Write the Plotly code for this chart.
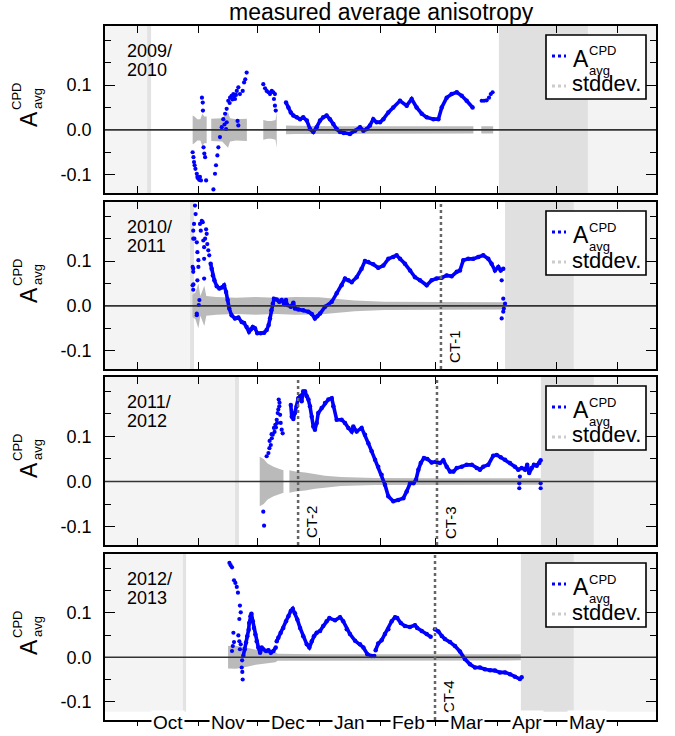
import plotly.graph_objects as go

# ======================= data =======================
title_text = "measured average anisotropy"
month_names = ["Oct", "Nov", "Dec", "Jan", "Feb", "Mar", "Apr", "May"]
month_start = [0, 31, 61, 92, 123, 151, 182, 212, 243]      # days after 1 Oct
season_line1 = ["2009/", "2010/", "2011/", "2012/"]
season_line2 = ["2010", "2011", "2012", "2013"]
ytick_vals = [-0.1, 0.0, 0.1]
ytick_text = ["-0.1", "0.0", "0.1"]

# background periods (days after 1 Oct)
light_end = [5.1, 26.8, 49.5, 23.2]
strip_end = [7.1, 28.8, 51.5, 24.8]
melt_start = [182.9, 186.0, 204.1, 194.0]
melt_end = [227.9, 220.8, 230.9, 220.8]

# cosmic-ray tests
ct_panel = [2, 3, 3, 4]
ct_day = [153.6, 81.4, 151.6, 150.6]
ct_text = ["CT-1", "CT-2", "CT-3", "CT-4"]

# ---- 2009/2010 ----
p1_scatter = [(28.1, -0.050), (28.5, -0.061), (28.8, -0.072), (29.1, -0.079), (29.5, -0.087),
              (30.2, -0.098), (30.5, -0.105), (31.2, -0.109), (31.8, -0.105), (32.3, -0.113),
              (30.8, -0.108), (31.5, -0.112), (32.8, 0.072), (33.2, 0.061), (33.3, 0.043),
              (33.6, -0.039), (34.0, -0.053), (34.4, -0.061), (34.9, -0.113), (38.6, -0.133),
              (39.4, -0.098), (39.9, -0.079), (40.6, -0.057), (41.1, -0.039), (41.9, -0.016),
              (42.8, 0.006), (43.6, 0.024), (44.5, 0.036), (45.3, 0.047), (46.1, 0.065),
              (47.0, 0.072), (47.8, 0.076), (48.7, 0.080), (49.5, 0.069), (50.4, 0.087),
              (51.2, 0.095), (52.0, 0.080), (53.4, 0.087), (54.1, 0.106), (54.7, 0.113),
              (55.4, 0.128), (45.3, 0.017), (45.0, 0.002), (44.2, 0.012), (51.2, 0.010),
              (50.8, 0.020), (46.8, 0.060), (48.2, 0.068), (49.0, 0.075), (50.0, 0.078),
              (63.8, 0.102), (64.7, 0.093), (65.5, 0.087), (66.4, 0.084), (67.2, 0.080),
              (68.1, 0.087), (68.9, 0.084), (69.7, 0.080), (69.2, 0.069), (69.7, 0.054),
              (70.1, 0.043), (174.2, 0.065), (175.4, 0.065), (176.7, 0.066), (177.9, 0.072),
              (178.8, 0.080), (179.7, 0.084)]
p1_line = [(75.3, 0.061), (76.5, 0.050), (77.7, 0.039), (79.0, 0.032), (80.7, 0.028),
           (82.4, 0.024), (84.0, 0.028), (85.8, 0.021), (87.4, 0.002), (89.1, -0.005),
           (90.8, 0.006), (92.5, 0.021), (94.1, 0.028), (95.8, 0.032), (97.5, 0.024),
           (99.2, 0.013), (100.9, 0.002), (102.6, -0.005), (104.5, -0.007), (107.6, -0.009),
           (110.2, -0.002), (112.7, 0.006), (114.4, -0.002), (116.1, 0.002), (117.7, 0.010),
           (119.4, 0.024), (121.1, 0.017), (122.8, 0.017), (124.5, 0.024), (127.0, 0.039),
           (129.5, 0.050), (132.9, 0.065), (136.3, 0.054), (138.8, 0.069), (141.3, 0.050),
           (143.9, 0.036), (146.4, 0.028), (149.8, 0.024), (152.3, 0.024), (154.0, 0.050),
           (156.5, 0.072), (159.0, 0.080), (161.6, 0.084), (164.1, 0.076), (166.6, 0.065),
           (169.6, 0.050)]
p1_std = [(28.1, 0.032), (29.0, 0.030), (30.5, 0.024), (32.0, 0.024), (33.0, 0.036),
          (34.0, 0.030), (35.2, 0.030), (None, None),
          (37.5, 0.025), (40.0, 0.025), (43.0, 0.026), (46.0, 0.040), (47.0, 0.026),
          (50.0, 0.024), (53.0, 0.025), (55.5, 0.025), (None, None),
          (63.8, 0.022), (66.0, 0.020), (68.0, 0.020), (70.0, 0.022), (70.6, 0.040), (None, None),
          (75.3, 0.010), (80.0, 0.009), (100.0, 0.008), (130.0, 0.008), (170.0, 0.008), (None, None),
          (174.0, 0.008), (180.0, 0.008)]

# ---- 2010/2011 ----
p2_scatter = [(29.3, 0.224), (29.6, 0.205), (28.8, 0.183), (28.4, 0.168), (28.4, 0.150),
              (30.2, 0.142), (30.5, 0.120), (28.4, 0.083), (28.4, 0.076), (28.1, 0.046),
              (28.4, 0.036), (31.0, 0.102), (31.0, 0.087), (30.5, 0.057), (30.2, -0.017),
              (30.2, -0.021), (31.8, 0.183), (32.2, 0.168), (32.7, 0.190), (33.2, 0.187),
              (33.5, 0.146), (33.9, 0.131), (34.4, 0.150), (33.9, 0.105), (33.9, 0.061),
              (34.9, 0.171), (35.2, 0.161), (35.5, 0.138), (36.0, 0.124), (36.5, 0.113),
              (28.1, 0.087), (28.5, 0.048), (31.5, 0.013), (31.2, 0.002), (29.0, 0.150),
              (184.3, 0.057), (185.1, 0.016), (186.0, 0.005), (185.4, -0.006), (185.1, -0.013),
              (184.3, -0.028)]
p2_line = [(37.2, 0.094), (37.7, 0.083), (38.3, 0.068), (39.1, 0.057), (40.3, 0.044),
           (41.6, 0.039), (42.8, 0.041), (44.0, 0.046), (45.0, 0.031), (45.8, 0.013),
           (46.6, -0.006), (47.8, -0.021), (49.5, -0.028), (51.2, -0.026), (52.9, -0.036),
           (54.1, -0.038), (55.4, -0.047), (56.6, -0.058), (57.6, -0.052), (58.5, -0.047),
           (59.6, -0.050), (60.8, -0.061), (62.5, -0.061), (64.2, -0.060), (65.5, -0.054),
           (66.5, -0.043), (67.2, -0.028), (67.9, -0.010), (68.6, 0.005), (69.2, 0.016),
           (70.6, 0.014), (71.9, 0.009), (73.1, 0.013), (74.3, 0.005), (75.3, 0.013),
           (75.9, 0.002), (77.7, -0.002), (79.0, 0.007), (79.8, -0.006), (81.5, -0.008),
           (84.0, -0.010), (86.6, -0.013), (88.3, -0.018), (89.9, -0.028), (91.1, -0.023),
           (92.5, -0.017), (95.0, -0.002), (98.4, 0.009), (100.9, 0.028), (103.4, 0.046),
           (105.1, 0.061), (106.8, 0.057), (108.5, 0.053), (111.0, 0.064), (113.5, 0.083),
           (115.2, 0.100), (116.9, 0.098), (119.4, 0.093), (121.9, 0.085), (124.5, 0.090),
           (127.0, 0.105), (129.5, 0.109), (131.2, 0.113), (132.9, 0.105), (135.4, 0.094),
           (138.0, 0.079), (140.5, 0.064), (143.0, 0.057), (146.4, 0.046), (148.9, 0.057),
           (151.4, 0.061), (154.0, 0.063), (156.5, 0.068), (159.0, 0.066), (161.6, 0.076),
           (163.2, 0.079), (164.9, 0.102), (167.4, 0.105), (169.9, 0.105), (172.5, 0.109),
           (175.0, 0.113), (177.5, 0.105), (179.2, 0.094), (180.9, 0.079), (182.6, 0.087),
           (183.8, 0.079), (185.1, 0.083)]
p2_std = [(28.0, 0.025), (29.5, 0.030), (31.0, 0.050), (32.0, 0.022), (34.0, 0.045),
          (35.0, 0.022), (40.0, 0.020), (50.0, 0.018), (60.0, 0.020), (70.0, 0.018),
          (80.0, 0.020), (92.0, 0.019), (100.0, 0.016), (110.0, 0.012), (125.0, 0.009),
          (150.0, 0.008), (186.0, 0.008)]

# ---- 2011/2012 ----
p3_scatter = [(63.8, -0.067), (64.2, -0.098), (65.5, 0.056), (66.4, 0.063), (66.9, 0.074),
              (67.6, 0.081), (68.1, 0.096), (68.6, 0.104), (69.2, 0.119), (69.9, 0.126),
              (70.6, 0.137), (71.1, 0.152), (71.6, 0.182), (71.9, 0.167), (72.3, 0.148),
              (72.6, 0.130), (73.1, 0.115), (73.6, 0.107), (67.0, 0.090), (68.0, 0.105),
              (69.5, 0.110), (70.2, 0.120), (70.8, 0.130), (71.4, 0.160), (72.0, 0.175),
              (193.5, 0.011), (193.2, -0.004), (193.2, -0.015), (204.0, -0.004), (204.0, -0.015)]
p3_line = [(77.7, 0.170), (78.2, 0.144), (79.0, 0.139), (79.8, 0.152), (80.7, 0.167),
           (81.5, 0.185), (82.4, 0.189), (83.2, 0.178), (84.0, 0.200), (84.9, 0.200),
           (85.8, 0.189), (86.6, 0.182), (87.4, 0.167), (88.3, 0.144), (89.1, 0.122),
           (89.9, 0.115), (90.8, 0.130), (91.6, 0.152), (93.3, 0.163), (95.0, 0.174),
           (96.7, 0.182), (98.4, 0.185), (99.2, 0.167), (100.9, 0.137), (103.4, 0.137),
           (105.1, 0.130), (106.8, 0.119), (108.5, 0.111), (109.3, 0.122), (111.0, 0.111),
           (113.5, 0.119), (115.2, 0.104), (116.9, 0.085), (118.6, 0.067), (120.3, 0.048),
           (121.9, 0.033), (123.6, 0.015), (125.3, -0.007), (127.0, -0.033), (129.5, -0.044),
           (132.0, -0.041), (134.6, -0.037), (136.3, -0.022), (138.0, -0.004), (139.7, -0.004),
           (141.0, 0.004), (142.2, 0.026), (143.4, 0.041), (145.0, 0.052), (146.7, 0.050),
           (148.9, 0.042), (151.1, 0.044), (153.1, 0.041), (154.8, 0.047), (156.5, 0.033),
           (158.2, 0.022), (159.9, 0.022), (161.6, 0.030), (164.1, 0.033), (166.6, 0.037),
           (169.2, 0.037), (171.7, 0.030), (173.3, 0.026), (175.0, 0.033), (177.5, 0.037),
           (180.0, 0.057), (181.8, 0.059), (183.8, 0.054), (186.0, 0.048), (188.5, 0.041),
           (191.0, 0.033), (192.7, 0.026), (194.4, 0.030), (196.1, 0.026), (197.2, 0.037),
           (198.2, 0.019), (199.4, 0.030), (200.6, 0.037), (202.0, 0.035), (203.3, 0.041),
           (204.0, 0.047)]
p3_std = [(62.0, 0.055), (64.0, 0.050), (66.0, 0.040), (69.0, 0.033), (72.0, 0.028),
          (74.0, 0.025), (None, None),
          (77.0, 0.025), (80.0, 0.022), (85.0, 0.020), (90.0, 0.016), (95.0, 0.013),
          (103.0, 0.010), (120.0, 0.008), (150.0, 0.007), (204.0, 0.007)]

# ---- 2012/2013 ----
p4_scatter = [(46.7, 0.212), (47.3, 0.207), (48.0, 0.202), (49.0, 0.173), (49.7, 0.167),
              (50.4, 0.158), (51.0, 0.145), (52.0, 0.116), (52.4, 0.101), (51.7, 0.086),
              (48.7, 0.055), (49.0, 0.034), (48.4, 0.025), (48.0, 0.014), (51.2, 0.049),
              (51.7, 0.036), (52.4, 0.029), (52.0, 0.018), (53.1, -0.007), (52.9, -0.023),
              (53.2, -0.033), (53.4, -0.050)]
p4_line = [(53.7, 0.003), (54.4, 0.018), (55.1, 0.033), (55.7, 0.047), (56.4, 0.062),
           (56.7, 0.077), (57.3, 0.092), (57.8, 0.098), (58.5, 0.081), (59.1, 0.066),
           (59.8, 0.051), (60.5, 0.036), (61.3, 0.022), (62.2, 0.010), (63.0, 0.022),
           (63.8, 0.018), (65.2, 0.014), (66.4, 0.016), (67.6, 0.010), (68.9, 0.014),
           (70.1, 0.022), (None, None),
           (70.6, 0.036), (71.4, 0.044), (72.6, 0.055), (73.9, 0.066), (75.3, 0.081),
           (76.5, 0.092), (77.7, 0.104), (78.7, 0.109), (79.8, 0.099), (81.0, 0.085),
           (82.4, 0.066), (84.0, 0.047), (85.8, 0.029), (87.1, 0.022), (88.3, 0.036),
           (89.4, 0.047), (90.8, 0.055), (92.5, 0.059), (94.1, 0.070), (95.8, 0.081),
           (97.2, 0.088), (100.1, 0.083), (102.6, 0.090), (104.2, 0.081), (106.0, 0.063),
           (107.6, 0.052), (110.2, 0.037), (112.7, 0.029), (114.4, 0.022), (116.4, 0.007),
           (118.6, 0.003), (119.9, 0.003), (None, None),
           (120.6, 0.016), (121.9, 0.031), (123.6, 0.038), (125.3, 0.052), (127.0, 0.063),
           (128.7, 0.081), (130.4, 0.090), (131.5, 0.088), (133.3, 0.077), (135.4, 0.070),
           (137.9, 0.068), (140.5, 0.072), (141.6, 0.066), (143.9, 0.059), (146.4, 0.052),
           (148.4, 0.046), (None, None),
           (150.6, 0.063), (152.3, 0.058), (154.0, 0.048), (155.6, 0.041), (158.2, 0.034),
           (160.7, 0.025), (163.2, 0.013), (165.7, -0.004), (168.3, -0.016), (170.8, -0.023),
           (173.3, -0.023), (175.8, -0.027), (178.4, -0.029), (180.9, -0.030), (183.4, -0.034),
           (186.0, -0.034), (188.5, -0.038), (191.0, -0.044), (193.5, -0.049), (194.4, -0.045)]
p4_std = [(46.0, 0.025), (50.0, 0.026), (55.0, 0.022), (60.0, 0.017), (65.0, 0.014),
          (70.0, 0.011), (71.0, 0.008), (90.0, 0.007), (150.0, 0.007), (194.0, 0.007)]

scatter_sets = [p1_scatter, p2_scatter, p3_scatter, p4_scatter]
line_sets = [p1_line, p2_line, p3_line, p4_line]
std_sets = [p1_std, p2_std, p3_std, p4_std]

# ======================= layout geometry =======================
W, H = 675, 736
FONT = "Liberation Sans, Arial, Helvetica, sans-serif"
BLUE = "#0000ff"
STD_GREY = "#bababa"
X_RANGE = [-16.2, 262.3]
Y_RANGE = [-0.141, 0.232]
PX_L, PX_R = 105, 656
tops = [26, 202, 377, 554]
bots = [193, 369, 545, 720]


def fx(x):
    return x / W


def fy(y):
    return (H - y) / H


def unzip(pairs):
    return [p[0] for p in pairs], [p[1] for p in pairs]


def band(pairs):
    xs, ys = [], []
    seg = []
    segs = []
    for p in pairs + [(None, None)]:
        if p[0] is None:
            if seg:
                segs.append(seg)
            seg = []
        else:
            seg.append(p)
    for k, s in enumerate(segs):
        sx = [p[0] for p in s]
        sv = [p[1] for p in s]
        xs += sx + sx[::-1]
        ys += sv + [-v for v in sv[::-1]]
        if k < len(segs) - 1:
            xs.append(None)
            ys.append(None)
    return xs, ys


fig = go.Figure()
shapes = []
annotations = []
axis_line = dict(showline=True, linecolor="black", linewidth=1.6, showgrid=False, zeroline=False,
                 automargin=False)

for i in range(4):
    n = "" if i == 0 else str(i + 1)
    xa, ya = "x" + n, "y" + n

    bx, by = band(std_sets[i])
    fig.add_trace(go.Scatter(x=bx, y=by, xaxis=xa, yaxis=ya, mode="lines", fill="toself",
                             fillcolor=STD_GREY, line=dict(width=0, color=STD_GREY),
                             hoverinfo="skip", showlegend=False))
    lx, ly = unzip(line_sets[i])
    fig.add_trace(go.Scatter(x=lx, y=ly, xaxis=xa, yaxis=ya, mode="lines+markers",
                             line=dict(color=BLUE, width=3.6), marker=dict(color=BLUE, size=4.5),
                             connectgaps=False, showlegend=False))
    sx, sy = unzip(scatter_sets[i])
    fig.add_trace(go.Scatter(x=sx, y=sy, xaxis=xa, yaxis=ya, mode="markers",
                             marker=dict(color=BLUE, size=4.2), showlegend=False))

    xdict = dict(domain=[fx(PX_L), fx(PX_R)], range=X_RANGE, anchor=ya, tickmode="array",
                 tickvals=month_start, ticks="inside", ticklen=7, tickwidth=1.3, tickcolor="black",
                 showticklabels=False, mirror="ticks", fixedrange=True, **axis_line)
    if i == 3:
        xdict.update(ticks="outside", ticklen=4, mirror=True)
    fig.layout["xaxis" + n] = xdict
    fig.layout["yaxis" + n] = dict(
        domain=[fy(bots[i]), fy(tops[i])], range=Y_RANGE, anchor=xa, tickmode="array",
        tickvals=ytick_vals, ticktext=ytick_text, ticks="inside", ticklen=10, tickwidth=1.3,
        tickcolor="black", mirror="ticks", ticklabelstandoff=8,
        tickfont=dict(family=FONT, size=18, color="black"),
        minor=dict(tickmode="linear", tick0=0, dtick=0.05, ticks="inside", ticklen=6,
                   tickwidth=1.3, tickcolor="black", showgrid=False),
        fixedrange=True, **axis_line)

    ybot = 0.05 if i == 3 else 0
    rects = [(X_RANGE[0], light_end[i], "#f4f4f4"), (light_end[i], strip_end[i], "#e3e3e3"),
             (melt_start[i], melt_end[i], "#e0e0e0"), (melt_end[i], X_RANGE[1], "#f3f3f3")]
    for x0, x1, c in rects:
        shapes.append(dict(type="rect", xref=xa, yref=ya + " domain", x0=x0, x1=x1, y0=ybot, y1=1,
                           fillcolor=c, line=dict(width=0), layer="below"))
    shapes.append(dict(type="line", xref=xa + " domain", yref=ya, x0=0, x1=1, y0=0, y1=0,
                       line=dict(color="#333333", width=1.6), layer="above"))

    # legend box
    t = tops[i]
    shapes.append(dict(type="rect", xref="paper", yref="paper", x0=fx(546), x1=fx(646),
                       y0=fy(t + 73), y1=fy(t + 9), fillcolor="white",
                       line=dict(color="black", width=1.6), layer="above"))
    shapes.append(dict(type="line", xref="paper", yref="paper", x0=fx(552), x1=fx(566),
                       y0=fy(t + 30), y1=fy(t + 30), line=dict(color=BLUE, width=3, dash="dot"),
                       layer="above"))
    shapes.append(dict(type="line", xref="paper", yref="paper", x0=fx(552), x1=fx(566),
                       y0=fy(t + 60), y1=fy(t + 60), line=dict(color="#cccccc", width=3, dash="dot"),
                       layer="above"))
    leg_items = [("A", 572, t + 33, 23), ("CPD", 588, t + 25, 13), ("avg", 588, t + 44, 13),
                 ("stddev.", 571, t + 58, 22)]
    for txt, x, y, s in leg_items:
        annotations.append(dict(text=txt, xref="paper", yref="paper", x=fx(x), y=fy(y),
                                xanchor="left", yanchor="middle", showarrow=False, borderpad=0,
                                font=dict(family=FONT, size=s, color="black")))

    # y-axis title
    for txt, x, y, s in [("A", 29, t + 93, 23), ("CPD", 17, t + 71, 13), ("avg", 37, t + 73, 13)]:
        annotations.append(dict(text=txt, xref="paper", yref="paper", x=fx(x), y=fy(y),
                                xanchor="center", yanchor="middle", textangle=-90, showarrow=False,
                                borderpad=0, font=dict(family=FONT, size=s, color="black")))
    # season label
    for txt, y in [(season_line1[i], t + 25), (season_line2[i], t + 44)]:
        annotations.append(dict(text=txt, xref="paper", yref="paper", x=fx(125), y=fy(y),
                                xanchor="left", yanchor="middle", showarrow=False,
                                font=dict(family=FONT, size=18, color="black")))

# CT lines
for p, d, txt in zip(ct_panel, ct_day, ct_text):
    n = "" if p == 1 else str(p)
    shapes.append(dict(type="line", xref="x" + n, yref="y" + n + " domain", x0=d, x1=d, y0=0, y1=1,
                       line=dict(color="#666666", width=2.5, dash="dot"), layer="above"))
    annotations.append(dict(text=txt, xref="x" + n, yref="y" + n + " domain", x=d, y=0,
                            xshift=13, yshift=23, xanchor="center", yanchor="middle",
                            textangle=-90, showarrow=False,
                            font=dict(family=FONT, size=15, color="black")))

# extra tick axes for the bottom panel (top inside ticks and crossing ticks)
fig.layout["xaxis5"] = dict(overlaying="x4", anchor="y4", side="top", range=X_RANGE,
                            tickmode="array", tickvals=month_start, ticks="inside", ticklen=7,
                            tickwidth=1.3, tickcolor="black", showticklabels=False, automargin=False,
                            showline=False, showgrid=False, zeroline=False, fixedrange=True)
fig.layout["xaxis6"] = dict(overlaying="x4", anchor="y4", side="bottom", range=X_RANGE,
                            tickmode="array", tickvals=month_start, ticks="inside", ticklen=3,
                            tickwidth=1.3, tickcolor="black", showticklabels=False, automargin=False,
                            showline=False, showgrid=False, zeroline=False, fixedrange=True)

# month labels sitting on the bottom axis line
for k, name in enumerate(month_names):
    mid = (month_start[k] + month_start[k + 1]) / 2
    annotations.append(dict(text=name, xref="x4", yref="y4 domain", x=mid, y=0, yshift=-2,
                            xanchor="center", yanchor="middle", showarrow=False,
                            bgcolor="white", borderpad=1,
                            font=dict(family=FONT, size=19, color="black")))

annotations.append(dict(text=title_text, xref="paper", yref="paper", x=fx(381), y=fy(12),
                        xanchor="center", yanchor="middle", showarrow=False,
                        font=dict(family=FONT, size=23, color="black")))

fig.update_layout(width=W, height=H, margin=dict(l=0, r=0, t=0, b=0, autoexpand=False),
                  paper_bgcolor="white", plot_bgcolor="white", showlegend=False,
                  shapes=shapes, annotations=annotations, font=dict(family=FONT))

fig.write_html("out.html", config={"displayModeBar": False},
               post_script="document.body.style.margin='0';document.body.style.overflow='hidden';")
